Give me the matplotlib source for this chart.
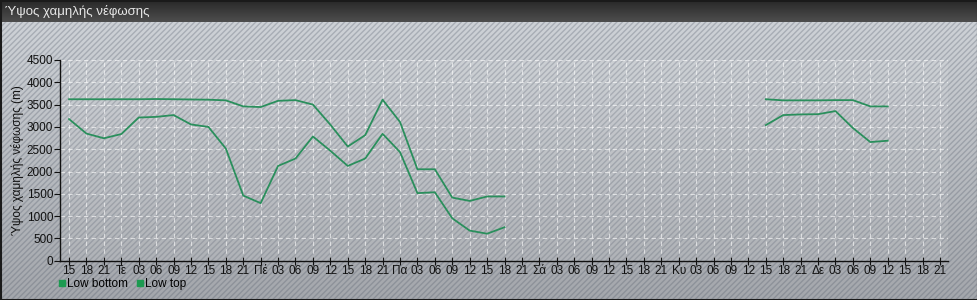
import numpy as np
import matplotlib
matplotlib.use("Agg")
import matplotlib.pyplot as plt
from matplotlib.patches import Rectangle
from matplotlib.lines import Line2D

plt.rcParams['font.family'] = ['Liberation Sans', 'DejaVu Sans']
plt.rcParams['hatch.linewidth'] = 1.0

title = "Ύψος χαμηλής νέφωσης"
ylabel = "Ύψος χαμηλής νέφωσης (m)"

tick_labels = (["15", "18", "21"] +
               ["Τε", "03", "06", "09", "12", "15", "18", "21"] +
               ["Πέ", "03", "06", "09", "12", "15", "18", "21"] +
               ["Πα", "03", "06", "09", "12", "15", "18", "21"] +
               ["Σά", "03", "06", "09", "12", "15", "18", "21"] +
               ["Κυ", "03", "06", "09", "12", "15", "18", "21"] +
               ["Δε", "03", "06", "09", "12", "15", "18", "21"])

N = None
low_top = [3620, 3620, 3620, 3620, 3620, 3625, 3620, 3615, 3610, 3595,
           3460, 3445, 3585, 3600, 3500, 3050, 2560, 2815, 3610, 3110,
           2050, 2050, 1415, 1340, 1440, 1440,
           N, N, N, N, N, N, N, N, N, N, N, N, N, N,
           3620, 3595, 3595, 3595, 3600, 3600, 3460, 3460,
           N, N, N]
low_bottom = [3175, 2850, 2745, 2840, 3210, 3225, 3265, 3055, 3000, 2515,
              1460, 1290, 2125, 2290, 2785, 2465, 2125, 2290, 2845, 2435,
              1515, 1535, 950, 675, 605, 750,
              N, N, N, N, N, N, N, N, N, N, N, N, N, N,
              3040, 3265, 3280, 3285, 3355, 2975, 2660, 2690,
              N, N, N]
series_names = ["Low bottom", "Low top"]

W, H = 978, 300
fig = plt.figure(figsize=(W / 100, H / 100), dpi=100)

# background
bg = fig.add_axes([0, 0, 1, 1], zorder=-10)
bg.set_xlim(0, W)
bg.set_ylim(0, H)
bg.axis('off')
grad = np.linspace(0, 1, 256).reshape(-1, 1)
top_c = np.array([206, 210, 215]) / 255
bot_c = np.array([164, 167, 172]) / 255
img = top_c[None, None, :] * (1 - grad[:, :, None]) + bot_c[None, None, :] * grad[:, :, None]
bg.imshow(img, extent=[0, W, 0, H - 22], aspect='auto', origin='upper', zorder=0)
bg.add_patch(Rectangle((0, 0), W, H - 22, facecolor='none',
                       edgecolor=(0.33, 0.36, 0.42, 0.3), hatch='//////',
                       linewidth=0, zorder=1))
# title bar
tgrad = np.linspace(0, 1, 64).reshape(-1, 1)
t_top = np.array([40, 40, 40]) / 255
t_bot = np.array([78, 78, 78]) / 255
timg = t_top[None, None, :] * (1 - tgrad[:, :, None]) + t_bot[None, None, :] * tgrad[:, :, None]
bg.imshow(timg, extent=[0, W, H - 22, H], aspect='auto', origin='upper', zorder=2)
bg.text(5, H - 11, title, color='#e8e8e8', fontsize=9.5, va='center', ha='left', zorder=3)
bg.add_patch(Rectangle((0.5, 0.5), W - 1, H - 1, facecolor='none',
                       edgecolor='#1a1a1a', linewidth=1.5, zorder=4))

# main axes
left, right = 60 / W, 948 / W
bottom, top = (H - 260.7) / H, (H - 60) / H
ax = fig.add_axes([left, bottom, right - left, top - bottom])
ax.set_facecolor((1, 1, 1, 0.08))

x = np.arange(len(tick_labels))
top_arr = np.array([np.nan if v is None else v for v in low_top], dtype=float)
bot_arr = np.array([np.nan if v is None else v for v in low_bottom], dtype=float)
line_color = '#2a8f5c'
ax.plot(x, bot_arr, color=line_color, linewidth=1.3, zorder=3)
ax.plot(x, top_arr, color=line_color, linewidth=1.3, zorder=3)

ax.set_xlim(-0.52, len(tick_labels) - 0.54)
ax.set_ylim(0, 4500)
ax.set_yticks(np.arange(0, 4501, 500))
ax.set_xticks(x)
ax.set_xticklabels(tick_labels)
ax.tick_params(axis='x', direction='inout', length=6, width=0.8, pad=0,
               labelsize=8.5, colors='#111111')
ax.tick_params(axis='y', direction='out', length=4, width=0.8, pad=1,
               labelsize=8.5, colors='#111111')
for s in ['top', 'right']:
    ax.spines[s].set_visible(False)
for s in ['left', 'bottom']:
    ax.spines[s].set_color('#111111')
    ax.spines[s].set_linewidth(1)
ax.grid(True, color='white', alpha=0.6, linestyle=(0, (4, 3)), linewidth=0.8)
ax.set_axisbelow(True)
ax.set_ylabel(ylabel, fontsize=8.5, color='#111111', labelpad=2)

handles = [Line2D([], [], marker='s', linestyle='none', markersize=5,
                  markerfacecolor='#1c9a50', markeredgecolor='#1c9a50')
           for _ in series_names]
fig.legend(handles, series_names, loc='center left',
           bbox_to_anchor=(57 / W, 1 - 284 / H), ncol=2, frameon=False,
           fontsize=8.5, handletextpad=0.05, columnspacing=0.6,
           handlelength=0.8, borderaxespad=0, borderpad=0)

fig.savefig('out.png', dpi=100)
